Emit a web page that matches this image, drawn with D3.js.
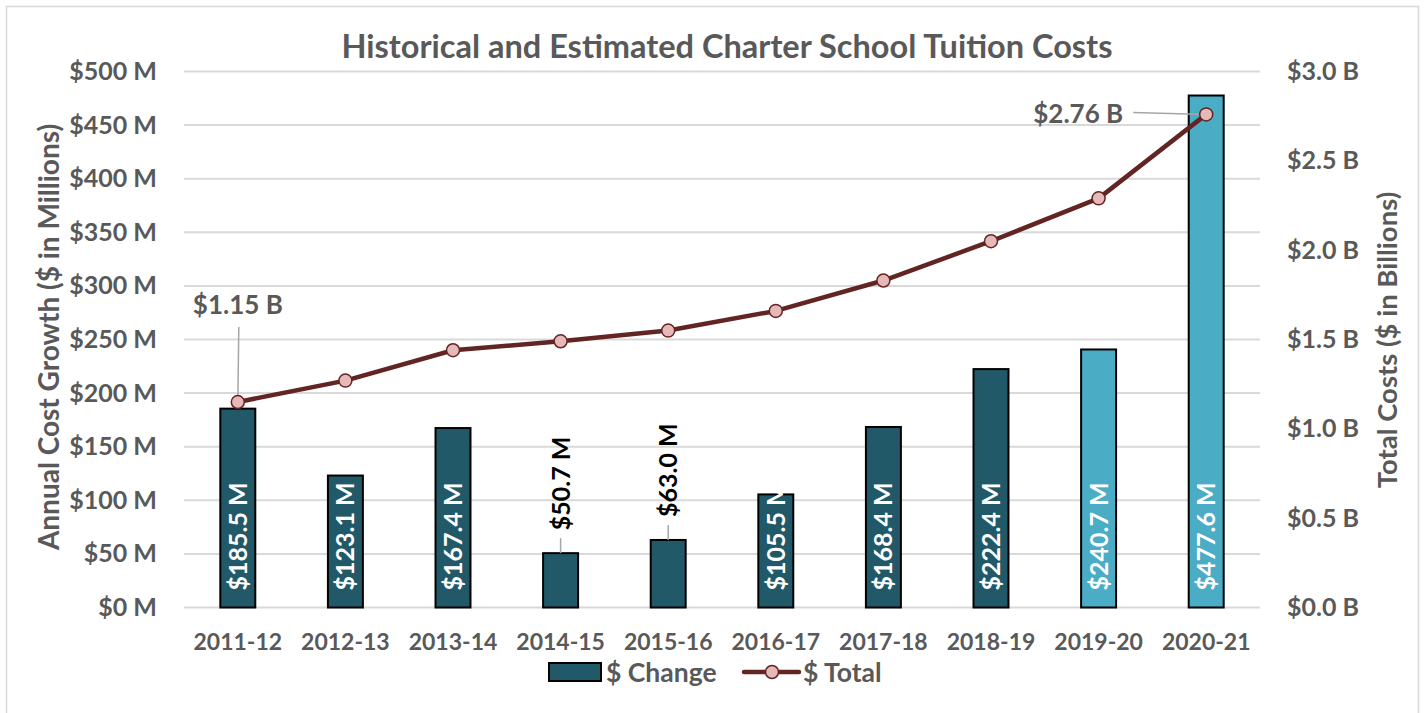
<!DOCTYPE html>
<html>
<head>
<meta charset="utf-8">
<script src="https://cdn.jsdelivr.net/npm/d3@7"></script>
<style>
  body { margin: 0; background: #fff; }
  svg text { font-family: Lato, "Open Sans", sans-serif; font-weight: 700; }
</style>
</head>
<body>
<div id="idChart"></div>
<script>
var aYears = ["2011-12","2012-13","2013-14","2014-15","2015-16","2016-17","2017-18","2018-19","2019-20","2020-21"];
var aChange = [185.5, 123.1, 167.4, 50.7, 63.0, 105.5, 168.4, 222.4, 240.7, 477.6];
var aTotal = [1.15, 1.27, 1.44, 1.49, 1.55, 1.66, 1.83, 2.05, 2.29, 2.76];
var aEstimated = [false, false, false, false, false, false, false, false, true, true];
var aLeftTicks = [0, 50, 100, 150, 200, 250, 300, 350, 400, 450, 500];
var aRightTicks = [0, 0.5, 1.0, 1.5, 2.0, 2.5, 3.0];

var iWidth = 1425, iHeight = 713;
var sText = "#595959";
var sDark = "#215968", sLight = "#4BACC6";
var sLine = "#632523", sMarker = "#E6B9B8";

var myCanvas = d3.select("#idChart").append("svg")
	.attr("width", iWidth)
	.attr("height", iHeight);

myCanvas.append("rect")
	.attr("x", 6.5).attr("y", 6.5)
	.attr("width", 1412).attr("height", 712)
	.attr("fill", "#fff").attr("stroke", "#d9d9d9").attr("stroke-width", 1.5);

var x0 = 184, x1 = 1260, yTop = 71.5, yBase = 607.5;

var xScale = d3.scaleBand().domain(aYears).range([x0, x1]).paddingInner(0.675).paddingOuter(0.3375);
var yLeft = d3.scaleLinear().domain([0, 500]).range([yBase, yTop]);
var yRight = d3.scaleLinear().domain([0, 3]).range([yBase, yTop]);

// gridlines
myCanvas.append("g").selectAll("line")
	.data(aLeftTicks)
	.enter().append("line")
		.attr("x1", x0).attr("x2", x1)
		.attr("y1", function(d) { return yLeft(d); })
		.attr("y2", function(d) { return yLeft(d); })
		.attr("stroke", "#d9d9d9").attr("stroke-width", 2);

// axes
var gLeft = myCanvas.append("g")
	.attr("transform", "translate(" + x0 + ",0)")
	.call(d3.axisLeft(yLeft).tickValues(aLeftTicks).tickSize(0).tickPadding(27)
		.tickFormat(function(d) { return "$" + d + " M"; }));

var gRight = myCanvas.append("g")
	.attr("transform", "translate(" + x1 + ",0)")
	.call(d3.axisRight(yRight).tickValues(aRightTicks).tickSize(0).tickPadding(27)
		.tickFormat(function(d) { return "$" + d.toFixed(1) + " B"; }));

var gBottom = myCanvas.append("g")
	.attr("transform", "translate(0," + yBase + ")")
	.call(d3.axisBottom(xScale).tickSize(0).tickPadding(26));

[gLeft, gRight, gBottom].forEach(function(g) {
	g.select(".domain").remove();
	g.selectAll("text")
		.attr("fill", sText)
		.style("font-family", "Lato, sans-serif")
		.style("font-weight", 700);
});
gLeft.selectAll("text").style("font-size", "25px");
gRight.selectAll("text").style("font-size", "25px");
gBottom.selectAll("text").style("font-size", "23px");

// bars
var myBars = myCanvas.append("g").selectAll(".BarNode")
	.data(aChange)
	.enter().append("g")
		.attr("class", "BarNode");

myBars.append("rect")
	.attr("x", function(d, i) { return xScale(aYears[i]); })
	.attr("y", function(d) { return yLeft(d); })
	.attr("width", xScale.bandwidth())
	.attr("height", function(d) { return yBase - yLeft(d); })
	.attr("fill", function(d, i) { return aEstimated[i] ? sLight : sDark; })
	.attr("stroke", "#000").attr("stroke-width", 2);

// bar labels, outside the bar when the bar is too short
myBars.each(function(d, i) {
	var g = d3.select(this);
	var cx = xScale(aYears[i]) + xScale.bandwidth() / 2;
	var sLabel = "$" + d.toFixed(1) + " M";
	var t = g.append("text")
		.attr("font-size", "25px")
		.attr("dy", "0.36em")
		.text(sLabel);
	var iLen = t.node().getComputedTextLength();
	var iBarH = yBase - yLeft(d);
	if (iLen > iBarH + 20) {
		var yTopBar = yLeft(d);
		t.attr("fill", "#000")
			.attr("transform", "translate(" + cx + "," + (yTopBar - 23) + ") rotate(-90)");
		g.append("line")
			.attr("x1", cx).attr("x2", cx)
			.attr("y1", yTopBar - 15).attr("y2", yTopBar)
			.attr("stroke", "#a6a6a6").attr("stroke-width", 1.5);
	} else {
		t.attr("fill", "#fff")
			.attr("transform", "translate(" + cx + "," + (yBase - 17) + ") rotate(-90)");
	}
});

// total line
var fLine = d3.line()
	.x(function(d, i) { return xScale(aYears[i]) + xScale.bandwidth() / 2; })
	.y(function(d) { return yRight(d); });

myCanvas.append("path")
	.datum(aTotal)
	.attr("d", fLine)
	.attr("fill", "none")
	.attr("stroke", sLine)
	.attr("stroke-width", 4.5)
	.attr("stroke-linejoin", "round");

// line labels (first and last points)
var iLast = aTotal.length - 1;
var px0 = xScale(aYears[0]) + xScale.bandwidth() / 2, py0 = yRight(aTotal[0]);
var pxN = xScale(aYears[iLast]) + xScale.bandwidth() / 2, pyN = yRight(aTotal[iLast]);

myCanvas.append("line")
	.attr("x1", px0 + 1).attr("y1", py0 - 75)
	.attr("x2", px0).attr("y2", py0)
	.attr("stroke", "#a6a6a6").attr("stroke-width", 1.5);
myCanvas.append("text")
	.attr("x", px0).attr("y", py0 - 88)
	.attr("text-anchor", "middle")
	.attr("font-size", "26px").attr("fill", sText)
	.text("$" + aTotal[0].toFixed(2) + " B");

myCanvas.append("line")
	.attr("x1", pxN - 73).attr("y1", pyN - 2)
	.attr("x2", pxN).attr("y2", pyN)
	.attr("stroke", "#a6a6a6").attr("stroke-width", 1.5);
myCanvas.append("text")
	.attr("x", pxN - 83).attr("y", pyN - 1)
	.attr("dy", "0.36em")
	.attr("text-anchor", "end")
	.attr("font-size", "26px").attr("fill", sText)
	.text("$" + aTotal[iLast].toFixed(2) + " B");

myCanvas.append("g").selectAll("circle")
	.data(aTotal)
	.enter().append("circle")
		.attr("cx", function(d, i) { return xScale(aYears[i]) + xScale.bandwidth() / 2; })
		.attr("cy", function(d) { return yRight(d); })
		.attr("r", 6.5)
		.attr("fill", sMarker)
		.attr("stroke", sLine).attr("stroke-width", 1.5);

// titles
myCanvas.append("text")
	.attr("x", 727).attr("y", 58)
	.attr("text-anchor", "middle")
	.attr("font-size", "32.5px").attr("fill", sText)
	.text("Historical and Estimated Charter School Tuition Costs");

myCanvas.append("text")
	.attr("transform", "translate(49,337) rotate(-90)")
	.attr("dy", "0.36em")
	.attr("text-anchor", "middle")
	.attr("font-size", "28px").attr("fill", sText)
	.text("Annual Cost Growth ($ in Millions)");

myCanvas.append("text")
	.attr("transform", "translate(1387,340) rotate(-90)")
	.attr("dy", "0.36em")
	.attr("text-anchor", "middle")
	.attr("font-size", "27.5px").attr("fill", sText)
	.text("Total Costs ($ in Billions)");

// legend
var gLegend = myCanvas.append("g");
gLegend.append("rect")
	.attr("x", 549).attr("y", 663)
	.attr("width", 52).attr("height", 18)
	.attr("fill", sDark).attr("stroke", "#000").attr("stroke-width", 2);
gLegend.append("text")
	.attr("x", 606).attr("y", 672).attr("dy", "0.36em")
	.attr("font-size", "26.5px").attr("fill", sText)
	.text("$ Change");
gLegend.append("line")
	.attr("x1", 744).attr("x2", 799)
	.attr("y1", 672).attr("y2", 672)
	.attr("stroke", sLine).attr("stroke-width", 4.5).attr("stroke-linecap", "round");
gLegend.append("circle")
	.attr("cx", 772).attr("cy", 672).attr("r", 6.5)
	.attr("fill", sMarker).attr("stroke", sLine).attr("stroke-width", 1.5);
gLegend.append("text")
	.attr("x", 803).attr("y", 672).attr("dy", "0.36em")
	.attr("font-size", "26.5px").attr("fill", sText)
	.text("$ Total");
</script>
</body>
</html>
